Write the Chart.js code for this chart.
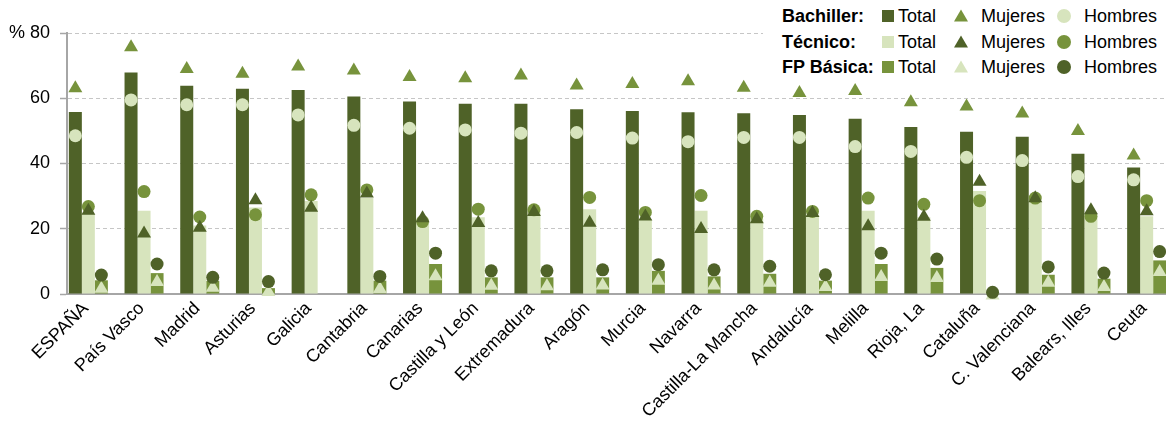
<!DOCTYPE html>
<html><head><meta charset="utf-8">
<script src="https://cdn.jsdelivr.net/npm/chart.js@4/dist/chart.umd.min.js"></script>
<style>
html,body{margin:0;padding:0;overflow:hidden;background:#fff;width:1166px;height:425px}
#wrap{position:absolute;left:0;top:0;width:1182px;height:425px}
#legend{position:absolute;left:763px;top:0;width:403px;height:78px;background:#fff;font-family:"Liberation Sans",Arial,sans-serif;font-size:18px;color:#000}
.t{position:absolute;white-space:nowrap;line-height:20px;height:20px}
.b{font-weight:bold}
.m{position:absolute}
</style></head>
<body>
<div id="wrap"><canvas id="c" width="1182" height="425"></canvas></div>
<div id="legend"></div>
<script>
const categories = ['ESPAÑA','País Vasco','Madrid','Asturias','Galicia','Cantabria','Canarias','Castilla y León','Extremadura','Aragón','Murcia','Navarra','Castilla-La Mancha','Andalucía','Melilla','Rioja, La','Cataluña','C. Valenciana','Balears, Illes','Ceuta'];
const bachTotal = [55.8, 67.9, 63.8, 62.9, 62.5, 60.5, 59.0, 58.3, 58.3, 56.6, 56.1, 55.7, 55.4, 54.9, 53.7, 51.2, 49.7, 48.2, 43.0, 38.8];
const bachMujeres = [63.5, 76.1, 69.4, 68.0, 70.2, 69.0, 67.0, 66.6, 67.4, 64.4, 64.8, 65.7, 63.7, 62.1, 62.7, 59.2, 57.9, 55.8, 50.4, 42.9];
const bachHombres = [48.5, 59.5, 58.0, 58.0, 54.9, 51.7, 50.8, 50.3, 49.3, 49.5, 47.8, 46.7, 48.0, 48.0, 45.2, 43.7, 41.9, 40.9, 36.0, 35.0];
const tecTotal = [24.5, 25.5, 21.0, 26.5, 28.5, 29.4, 21.5, 23.5, 26.5, 26.0, 23.0, 25.5, 23.0, 24.2, 25.5, 23.5, 31.6, 28.4, 23.8, 23.8];
const tecMujeres = [26.0, 19.0, 20.8, 29.2, 26.9, 31.3, 23.7, 22.2, 25.6, 22.3, 24.2, 20.4, 23.4, 25.3, 21.2, 24.1, 34.9, 29.8, 26.1, 25.8];
const tecHombres = [26.8, 31.4, 23.6, 24.3, 30.4, 31.9, 22.2, 26.0, 25.8, 29.6, 25.0, 30.2, 23.8, 25.3, 29.4, 27.5, 28.6, 29.4, 23.8, 28.6];
const fpTotal = [4.2, 6.4, 4.0, 1.8, null, 4.1, 9.2, 5.1, 5.1, 5.1, 7.1, 5.4, 6.2, 4.1, 9.2, 8.0, 0.0, 5.9, 4.7, 10.3];
const fpMujeres = [2.1, 4.1, 2.4, 1.1, null, 2.0, 5.9, 3.0, 2.8, 3.1, 4.5, 3.1, 3.9, 2.6, 5.7, 5.4, 0.0, 3.9, 2.6, 7.2];
const fpHombres = [5.8, 9.2, 5.1, 3.8, null, 5.4, 12.5, 7.1, 7.1, 7.4, 9.0, 7.4, 8.5, 5.9, 12.5, 10.7, 0.5, 8.3, 6.4, 13.0];
const yTicks = [0, 20, 40, 60, 80];
const spacer = categories.map(() => null);

const DARK = '#4f6228', MID = '#77933c', LIGHT = '#d7e4bd';
const FONT = '"Liberation Sans", Arial, sans-serif';

function markerSet(label, data, stack, marker, color) {
  return {type: 'bar', label, data, stack, marker, markerColor: color,
    backgroundColor: 'rgba(0,0,0,0)', borderWidth: 0};
}

const datasets = [
  {type: 'bar', label: 'Bachiller Total', data: bachTotal, stack: 'b', backgroundColor: DARK},
  {type: 'bar', label: 'Técnico Total', data: tecTotal, stack: 't', backgroundColor: LIGHT},
  {type: 'bar', label: 'FP Básica Total', data: fpTotal, stack: 'f', backgroundColor: MID},
  {type: 'bar', label: '', data: spacer, stack: 'd', backgroundColor: 'rgba(0,0,0,0)'},
  markerSet('Bachiller Mujeres', bachMujeres, 'b', 'triangle', MID),
  markerSet('Bachiller Hombres', bachHombres, 'b', 'circle', LIGHT),
  markerSet('Técnico Hombres', tecHombres, 't', 'circle', MID),
  markerSet('Técnico Mujeres', tecMujeres, 't', 'triangle', DARK),
  markerSet('FP Básica Mujeres', fpMujeres, 'f', 'triangle', LIGHT),
  markerSet('FP Básica Hombres', fpHombres, 'f', 'circle', DARK)
];

const markerPlugin = {
  id: 'markers',
  afterDatasetsDraw(chart) {
    const ctx = chart.ctx;
    chart.data.datasets.forEach((ds, i) => {
      if (!ds.marker) return;
      const meta = chart.getDatasetMeta(i);
      meta.data.forEach((el, j) => {
        const v = ds.data[j];
        if (v === null || v === undefined) return;
        const x = el.x, y = el.y;
        ctx.save();
        ctx.fillStyle = ds.markerColor;
        ctx.beginPath();
        if (ds.marker === 'triangle') {
          ctx.moveTo(x, y - 6.5); ctx.lineTo(x + 7, y + 5.5); ctx.lineTo(x - 7, y + 5.5); ctx.closePath();
        } else {
          ctx.arc(x, y, 6.5, 0, Math.PI * 2);
        }
        ctx.fill();
        ctx.restore();
      });
    });
  }
};

Chart.defaults.font.family = FONT;
Chart.defaults.font.size = 18;
Chart.defaults.color = '#000';

new Chart(document.getElementById('c'), {
  type: 'bar',
  data: {labels: categories, datasets},
  options: {
    responsive: false,
    animation: false,
    events: [],
    layout: {padding: {top: 33, right: 1, left: 0, bottom: 0}},
    categoryPercentage: 0.934,
    barPercentage: 1.0,
    plugins: {legend: {display: false}, tooltip: {enabled: false}},
    scales: {
      x: {
        grid: {display: false, drawTicks: false},
        border: {display: true, color: '#a6a6a6', width: 2},
        ticks: {autoSkip: false, maxRotation: 45, minRotation: 45, labelOffset: -9, padding: 4, color: '#000', font: {size: 18}},
        afterFit: (s) => { s.height = 131; }
      },
      y: {
        stacked: false,
        min: 0, max: 80,
        afterBuildTicks: (s) => { s.ticks = yTicks.map(v => ({value: v})); },
        ticks: {padding: 10, color: '#000', font: {size: 18},
          callback: (v) => v === 80 ? '% 80' : String(v)},
        grid: {color: '#c6c6c6', lineWidth: 1, tickLength: 7, tickColor: '#a6a6a6', tickWidth: 1.5, tickBorderDash: []},
        border: {display: true, color: '#a6a6a6', width: 2, dash: [4, 3]},
        afterFit: (s) => { s.width = 67; }
      }
    }
  },
  plugins: [markerPlugin]
});

// legend
const legendRows = [
  {name: 'Bachiller:', y: 16, total: DARK, muj: MID, hom: LIGHT},
  {name: 'Técnico:', y: 41.5, total: LIGHT, muj: DARK, hom: MID},
  {name: 'FP Básica:', y: 66.5, total: MID, muj: LIGHT, hom: DARK}
];
const L = document.getElementById('legend');
const OX = 763;
function add(html) { L.insertAdjacentHTML('beforeend', html); }
legendRows.forEach(r => {
  add(`<div class="t b" style="left:${782-OX}px;top:${r.y-10}px">${r.name}</div>`);
  add(`<div class="m" style="left:${882-OX}px;top:${r.y-6}px;width:12px;height:12px;background:${r.total}"></div>`);
  add(`<div class="t" style="left:${898-OX}px;top:${r.y-10}px">Total</div>`);
  add(`<svg class="m" style="left:${954-OX}px;top:${r.y-7}px" width="14" height="13"><polygon points="7,0.5 14,12.5 0,12.5" fill="${r.muj}"/></svg>`);
  add(`<div class="t" style="left:${981-OX}px;top:${r.y-10}px">Mujeres</div>`);
  add(`<div class="m" style="left:${1057-OX}px;top:${r.y-7}px;width:14px;height:14px;border-radius:50%;background:${r.hom}"></div>`);
  add(`<div class="t" style="left:${1084-OX}px;top:${r.y-10}px">Hombres</div>`);
});
</script>
</body></html>
